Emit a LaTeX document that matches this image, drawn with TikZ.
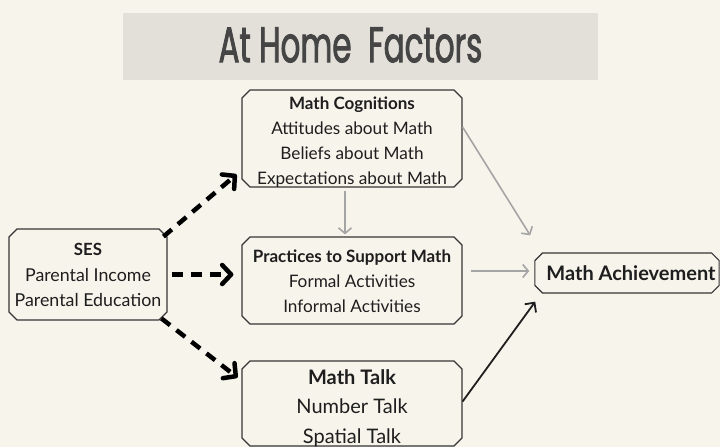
\documentclass[tikz,border=0pt]{standalone}
\usepackage{fontspec}
\setmainfont{Lato}
\newfontfamily\titlefont[FakeStretch=0.62,FakeBold=1.6]{Poppins}
\usetikzlibrary{arrows.meta,shapes.misc}

\definecolor{paper}{HTML}{F7F4EC}
\definecolor{band}{HTML}{E3E0DA}
\definecolor{ink}{HTML}{1E1E1E}
\definecolor{headink}{HTML}{454545}
\definecolor{greyline}{HTML}{A5A5A5}

% a line without descender depth
\newcommand{\nodepth}[1]{\raisebox{0pt}[\height][0pt]{#1}}

\begin{document}
\begin{tikzpicture}[x=1pt,y=-1pt,
  factor/.style={chamfered rectangle, chamfered rectangle xsep=4pt,
    chamfered rectangle ysep=4pt, draw=ink!90, line width=1.2pt,
    fill=paper, text=ink, align=center, inner xsep=0pt, inner ysep=-4pt},
  causal/.style={line width=4.5pt, dash pattern=on 11pt off 8pt,
    -{Straight Barb[length=9pt,width=19pt,round]}},
  linkgrey/.style={draw=greyline, line width=1.6pt,
    -{Straight Barb[length=5.5pt,width=13pt]}},
  linkdark/.style={draw=ink, line width=1.8pt,
    -{Straight Barb[length=7pt,width=14pt]}}
]
% canvas and header band
\fill[paper] (0,0) rectangle (720,447);
\useasboundingbox (0,0) rectangle (720,447);
\fill[band] (123,13) rectangle (598,80);
\node[text=headink, font=\titlefont\fontsize{50}{56}\selectfont, inner sep=0pt]
  (title) at (350.5,45) {At Home\ \ Factors};

% factor boxes
\node[factor, font=\fontsize{17.2}{25.3}\selectfont, minimum width=220pt, minimum height=97pt] (cog) at (352,138.5)
  {\rule{0pt}{17pt}{\bfseries\fontsize{17}{25.3}\selectfont Math Cognitions}\\
   Attitudes about Math\\ Beliefs about Math\\ \nodepth{Expectations about Math}};
\node[factor, font=\fontsize{17.2}{25}\selectfont, minimum width=220pt, minimum height=87pt] (prac) at (352,280.5)
  {\rule{0pt}{14pt}{\bfseries\fontsize{17}{25}\selectfont Practices to Support Math}\\
   Formal Activities\\ Informal Activities};
\node[factor, font=\fontsize{17.8}{25.5}\selectfont, minimum width=158pt, minimum height=91pt] (ses) at (88,274.5)
  {\rule{0pt}{14pt}{\bfseries\fontsize{16.8}{25.5}\selectfont SES}\\ Parental Income\\ Parental Education};
\node[factor, font=\fontsize{20}{29.5}\selectfont, minimum width=220pt, minimum height=85pt] (talk) at (352,403.5)
  {\rule{0pt}{20pt}{\bfseries\fontsize{20}{29.5}\selectfont Math Talk}\\ Number Talk\\ \nodepth{Spatial Talk}};
\node[factor, font=\bfseries\fontsize{20}{22}\selectfont, minimum width=184pt, minimum height=40pt] (ach) at (627,273)
  {\hspace*{8pt}Math Achievement};

% SES feeds the three home factors
\draw[causal] ([yshift=-4pt]ses.north east) -- ([xshift=-9pt,yshift=9pt]cog.south west);
\coordinate (sesmid) at (ses.east -| prac.west);
\draw[causal] ([xshift=4pt]ses.east) -- ([xshift=-8pt]sesmid);
\draw[causal] ([xshift=-2pt,yshift=-2pt]ses.south east) -- ([xshift=-8pt,yshift=-13pt]talk.north west);

% home factors lead to achievement
\draw[linkgrey] ([xshift=-7pt,yshift=-3pt]cog.south) -- ([xshift=-7pt,yshift=2pt]prac.north);
\draw[linkgrey] ([yshift=11.5pt]cog.east) -- ([xshift=-8pt,yshift=21pt]ach.north west);
\coordinate (pracmid) at (prac.east |- ach.west);
\draw[linkgrey] ([xshift=8pt,yshift=2pt]pracmid) -- ([xshift=-5pt,yshift=2pt]ach.west);
\draw[linkdark] ([yshift=2pt]talk.east) -- ([xshift=-3pt,yshift=-12pt]ach.south west);
\end{tikzpicture}
\end{document}
